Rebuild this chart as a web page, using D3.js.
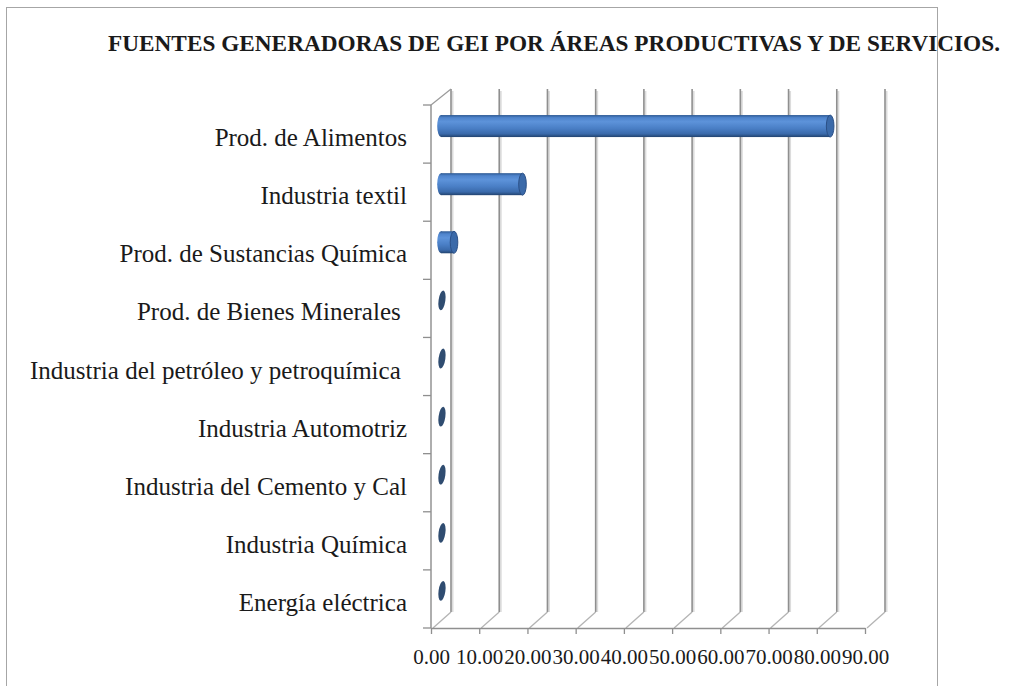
<!DOCTYPE html>
<html>
<head>
<meta charset="utf-8">
<script src="https://cdn.jsdelivr.net/npm/d3@7"></script>
<style>
  body { margin: 0; background: #fff; }
  svg text { font-family: "Liberation Serif", "Times New Roman", serif; fill: #1a1a1a; }
</style>
</head>
<body>
<svg id="chart" width="1009" height="686"></svg>
<script>
// data
let categories = [
  'Prod. de Alimentos',
  'Industria textil',
  'Prod. de Sustancias Química',
  'Prod. de Bienes Minerales ',
  'Industria del petróleo y petroquímica ',
  'Industria Automotriz',
  'Industria del Cemento y Cal',
  'Industria Química',
  'Energía eléctrica'
];
let values = [80.7, 16.9, 2.7, 0.2, 0.2, 0.2, 0.2, 0.2, 0.2];
let tickValues = [0, 10, 20, 30, 40, 50, 60, 70, 80, 90];
let title = 'FUENTES GENERADORAS DE GEI POR ÁREAS PRODUCTIVAS Y DE SERVICIOS.';

let svg = d3.select('#chart');
let depth = {dx: 20, dy: -16};
let barH = 22;

let x = d3.scaleLinear().domain([0, 90]).range([431, 865]);
let y = d3.scaleBand().domain(categories).range([105, 628]);

// outer frame
svg.append('rect')
  .attr('x', 6.5).attr('y', 7.5)
  .attr('width', 931).attr('height', 700)
  .style('fill', 'none').style('stroke', '#a6a6a6').style('stroke-width', '1px');

// title (condensed, as in the picture)
svg.append('text')
  .attr('x', 108).attr('y', 51)
  .attr('textLength', 892).attr('lengthAdjust', 'spacingAndGlyphs')
  .style('font-size', '24px').style('font-weight', 'bold')
  .text(title);

let defs = svg.append('defs');
let grad = defs.append('linearGradient').attr('id', 'cyl')
  .attr('x1', 0).attr('y1', 0).attr('x2', 0).attr('y2', 1);
[['0%', '#2c5892'], ['12%', '#4f84cc'], ['30%', '#5d93da'], ['60%', '#4a7fc6'], ['85%', '#3a6aab'], ['100%', '#22436f']]
  .forEach(s => grad.append('stop').attr('offset', s[0]).attr('stop-color', s[1]));

let y0 = y.range()[0], y1 = y.range()[1];
let grid = svg.append('g');

// back wall gridlines (with a soft shadow)
tickValues.forEach(t => {
  let gx = x(t) + depth.dx;
  grid.append('line')
    .attr('x1', gx + 1.5).attr('x2', gx + 1.5)
    .attr('y1', y0 + depth.dy + 2).attr('y2', y1 + depth.dy)
    .style('stroke', '#dcdcdc').style('stroke-width', '2px');
  grid.append('line')
    .attr('x1', gx).attr('x2', gx)
    .attr('y1', y0 + depth.dy).attr('y2', y1 + depth.dy)
    .style('stroke', '#8f8f8f').style('stroke-width', '1.6px');
  // floor diagonals
  grid.append('line')
    .attr('x1', x(t) + 2).attr('y1', y1)
    .attr('x2', gx).attr('y2', y1 + depth.dy)
    .style('stroke', '#b4b4b4').style('stroke-width', '1.3px');
});

// left wall
grid.append('line')
  .attr('x1', x(0)).attr('y1', y0).attr('x2', x(0) + depth.dx).attr('y2', y0 + depth.dy)
  .style('stroke', '#9a9a9a').style('stroke-width', '1.3px');
grid.append('line')
  .attr('x1', x(0)).attr('y1', y0).attr('x2', x(0)).attr('y2', y1)
  .style('stroke', '#9a9a9a').style('stroke-width', '1.6px');
categories.concat([null]).forEach((c, i) => {
  let ty = y0 + i * y.step();
  grid.append('line')
    .attr('x1', x(0) - 8).attr('x2', x(0)).attr('y1', ty).attr('y2', ty)
    .style('stroke', '#8f8f8f').style('stroke-width', '1.3px');
});

// bottom axis
let xAxis = d3.axisBottom(x)
  .tickValues(tickValues)
  .tickFormat(d3.format('.2f'))
  .tickSize(6).tickPadding(15).tickSizeOuter(0);
let xg = svg.append('g').attr('transform', `translate(0,${y1})`).call(xAxis);
xg.select('.domain').style('stroke', '#8f8f8f').style('stroke-width', '1.6px');
xg.selectAll('.tick line').style('stroke', '#8f8f8f').style('stroke-width', '1.3px');
xg.selectAll('.tick text')
  .style('font-size', '21px').style('font-family', '"Liberation Serif", serif').style('fill', '#1a1a1a');

// category labels
let yAxis = d3.axisLeft(y).tickSize(0).tickPadding(24);
let yg = svg.append('g').attr('transform', `translate(${x(0)},0)`).call(yAxis);
yg.select('.domain').remove();
yg.selectAll('.tick text')
  .attr('dy', '0.48em')
  .style('font-size', '25px').style('font-family', '"Liberation Serif", serif')
  .style('fill', '#1a1a1a').style('white-space', 'pre');

// cylinder bars, sitting in the middle of the depth
let bars = svg.append('g').selectAll('g').data(categories).join('g')
  .attr('transform', `translate(${depth.dx / 2},${depth.dy / 2})`);
bars.each(function(c, i) {
  let g = d3.select(this);
  let v = values[i];
  let cy = y(c) + y.bandwidth() / 2;
  let xa = x(0), xb = x(v);
  let rx = 3.8, ry = barH / 2;
  if (xb - xa > 3) {
    g.append('ellipse').attr('cx', xa).attr('cy', cy).attr('rx', rx).attr('ry', ry)
      .style('fill', 'url(#cyl)');
    g.append('rect').attr('x', xa).attr('y', cy - ry)
      .attr('width', xb - xa).attr('height', barH)
      .style('fill', 'url(#cyl)');
    g.append('ellipse').attr('cx', xb).attr('cy', cy).attr('rx', rx).attr('ry', ry)
      .style('fill', '#3b6aa9').style('stroke', '#2b5087').style('stroke-width', '1px');
  } else {
    g.append('ellipse').attr('cx', xb).attr('cy', cy).attr('rx', 3.4).attr('ry', ry - 1)
      .attr('transform', `rotate(8,${xb},${cy})`)
      .style('fill', '#2f4c70');
  }
});
</script>
</body>
</html>
